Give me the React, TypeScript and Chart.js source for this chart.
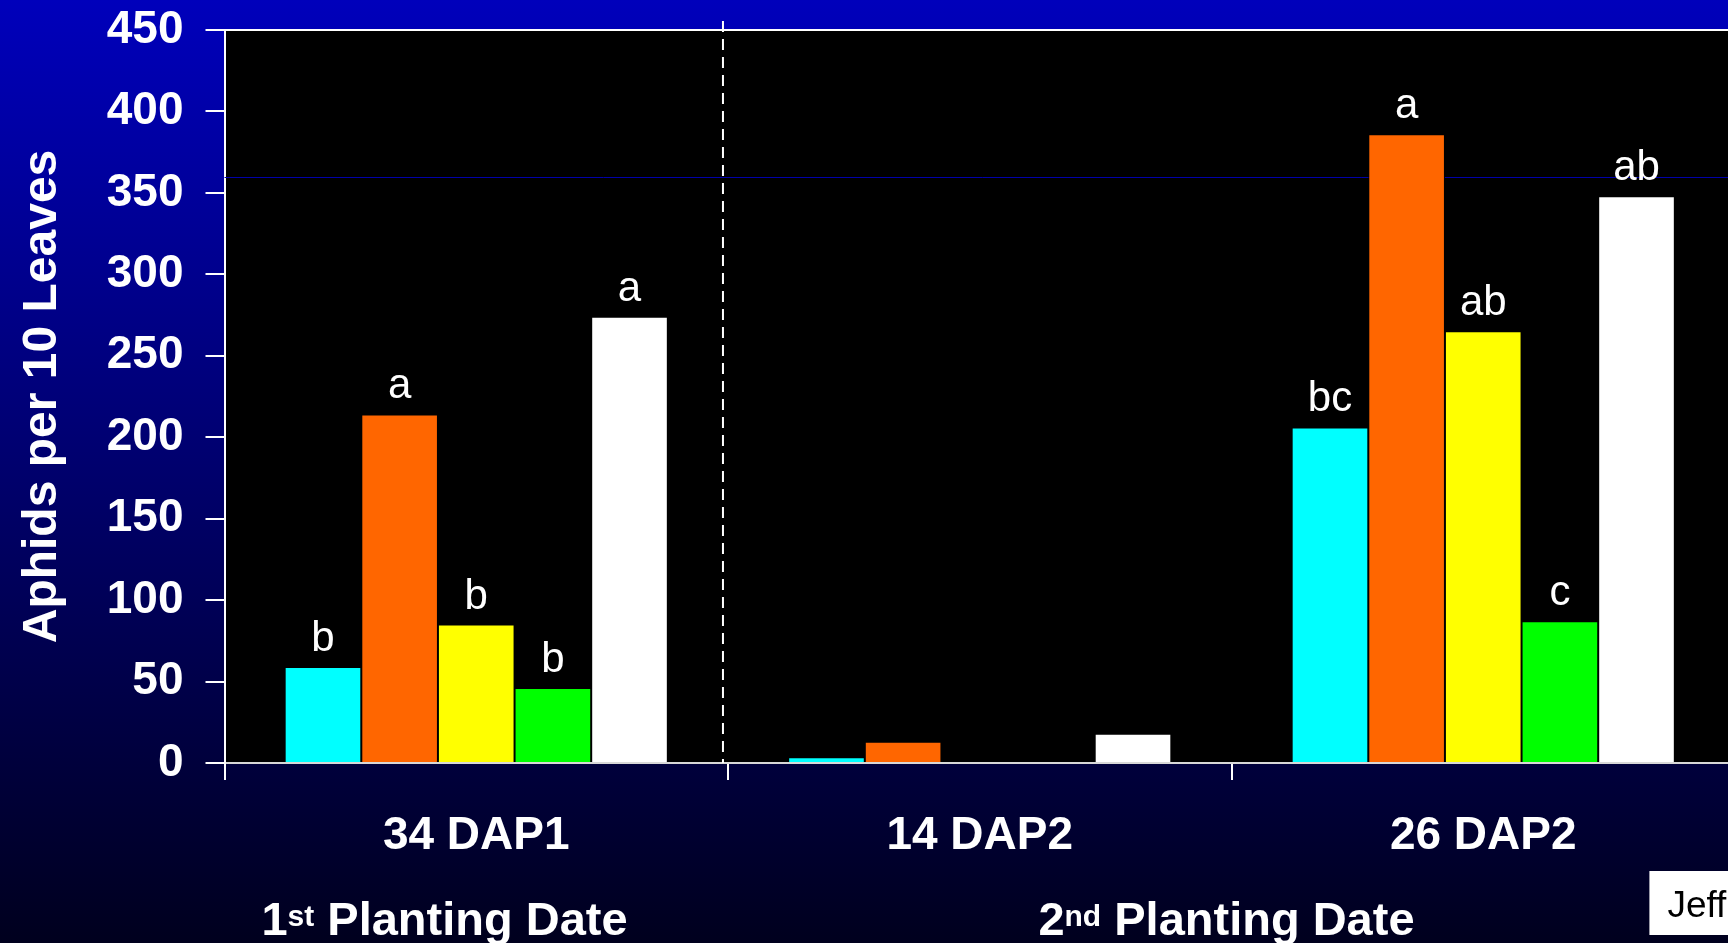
import React, { useEffect, useRef } from 'react';
import { Chart, registerables } from 'chart.js';

Chart.register(...registerables);

// ---- data ----
const categories = ['34 DAP1', '14 DAP2', '26 DAP2'];
const seriesNames = ['Treatment 1', 'Treatment 2', 'Treatment 3', 'Treatment 4', 'Treatment 5'];
const cyanValues = [59, 3.5, 206];
const orangeValues = [214, 13, 386];
const yellowValues = [85, 0, 265];
const greenValues = [46, 0, 87];
const whiteValues = [274, 18, 348];
const cyanLetters = ['b', '', 'bc'];
const orangeLetters = ['a', '', 'a'];
const yellowLetters = ['b', '', 'ab'];
const greenLetters = ['b', '', 'c'];
const whiteLetters = ['a', '', 'ab'];
const seriesColors = ['#00FFFF', '#FF6600', '#FFFF00', '#00FF00', '#FFFFFF'];
const yMin = 0;
const yMax = 450;
const yStep = 50;
const yAxisTitle = 'Aphids per 10 Leaves';
const plantingOrdinals = ['1', '2'];
const plantingSuffixes = ['st', 'nd'];
const plantingRest = ' Planting Date';
const creditText = 'Jeff';
const referenceLineValue = 360;

const FONT = "'Liberation Sans', Arial, Helvetica, sans-serif";

export default function App() {
  const ref = useRef<HTMLCanvasElement>(null);

  useEffect(() => {
    const canvas = ref.current;
    if (!canvas) return;

    const valueSets = [cyanValues, orangeValues, yellowValues, greenValues, whiteValues];
    const letterSets = [cyanLetters, orangeLetters, yellowLetters, greenLetters, whiteLetters];

    const decor = {
      id: 'decor',
      beforeDraw(chart: any) {
        const { ctx, width, height, chartArea: a } = chart;
        ctx.save();
        const g = ctx.createLinearGradient(0, 0, 0, height);
        g.addColorStop(0, '#0000BB');
        g.addColorStop(1, '#00001E');
        ctx.fillStyle = g;
        ctx.fillRect(0, 0, width, height);
        ctx.fillStyle = '#000000';
        ctx.fillRect(a.left, a.top, a.right - a.left, a.bottom - a.top);
        ctx.restore();
      },
      beforeDatasetsDraw(chart: any) {
        const { ctx, chartArea: a, scales } = chart;
        ctx.save();
        // faint blue reference line
        const yRef = Math.round(scales.y.getPixelForValue(referenceLineValue)) + 0.5;
        ctx.strokeStyle = '#0000A8';
        ctx.lineWidth = 1;
        ctx.beginPath();
        ctx.moveTo(a.left, yRef);
        ctx.lineTo(chart.width, yRef);
        ctx.stroke();
        // dashed divider between planting dates
        const xd = scales.x.getPixelForValue(0.49);
        ctx.strokeStyle = '#FFFFFF';
        ctx.lineWidth = 2;
        ctx.setLineDash([11, 7]);
        ctx.beginPath();
        ctx.moveTo(xd, a.top - 9);
        ctx.lineTo(xd, a.bottom);
        ctx.stroke();
        ctx.setLineDash([]);
        // top border
        ctx.strokeStyle = '#FFFFFF';
        ctx.lineWidth = 2;
        ctx.beginPath();
        ctx.moveTo(a.left - 1, a.top);
        ctx.lineTo(chart.width, a.top);
        ctx.stroke();
        ctx.restore();
      },
      afterDatasetsDraw(chart: any) {
        const { ctx } = chart;
        ctx.save();
        ctx.fillStyle = '#FFFFFF';
        ctx.font = `42px ${FONT}`;
        ctx.textAlign = 'center';
        ctx.textBaseline = 'alphabetic';
        letterSets.forEach((letters, i) => {
          const meta = chart.getDatasetMeta(i);
          letters.forEach((t, j) => {
            if (!t) return;
            const bar = meta.data[j];
            ctx.fillText(t, bar.x, bar.y - 16);
          });
        });
        ctx.restore();
      },
      afterDraw(chart: any) {
        const { ctx, scales } = chart;
        ctx.save();
        ctx.fillStyle = '#FFFFFF';
        ctx.textBaseline = 'alphabetic';
        ctx.textAlign = 'left';
        const centers = [scales.x.getPixelForValue(-0.063), scales.x.getPixelForValue(1.49)];
        const baseline = 935;
        const big = `bold 47px ${FONT}`;
        const small = `bold 30px ${FONT}`;
        plantingOrdinals.forEach((ord, i) => {
          ctx.font = big;
          const w1 = ctx.measureText(ord).width;
          const w3 = ctx.measureText(plantingRest).width;
          ctx.font = small;
          const w2 = ctx.measureText(plantingSuffixes[i]).width;
          let x = centers[i] - (w1 + w2 + w3) / 2;
          ctx.font = big;
          ctx.fillText(ord, x, baseline);
          x += w1;
          ctx.font = small;
          ctx.fillText(plantingSuffixes[i], x, baseline - 9);
          x += w2;
          ctx.font = big;
          ctx.fillText(plantingRest, x, baseline);
        });
        // credit box
        const bx = scales.x.getPixelForValue(2.33);
        ctx.fillStyle = '#FFFFFF';
        ctx.fillRect(bx, 871, chart.width - bx, 64);
        ctx.fillStyle = '#000000';
        ctx.font = `37px ${FONT}`;
        ctx.fillText(creditText, bx + 18, 917);
        ctx.restore();
      },
    };

    const chart = new Chart(canvas, {
      type: 'bar',
      data: {
        labels: categories,
        datasets: valueSets.map((vals, i) => ({
          label: seriesNames[i],
          data: vals,
          backgroundColor: seriesColors[i],
          borderColor: '#000000',
          borderWidth: 1,
          borderSkipped: 'start',
          categoryPercentage: 0.761,
          barPercentage: 1.0,
        })),
      },
      options: {
        responsive: false,
        animation: false,
        devicePixelRatio: 1,
        layout: { padding: { top: 30, right: 5, left: 0, bottom: 0 } },
        plugins: {
          legend: { display: false },
          tooltip: { enabled: false },
        },
        scales: {
          x: {
            type: 'category',
            offset: true,
            grid: {
              offset: true,
              drawOnChartArea: false,
              drawTicks: true,
              tickLength: 17,
              color: '#FFFFFF',
              lineWidth: 2,
            },
            border: { display: true, color: '#D8D8D8', width: 2 },
            ticks: {
              color: '#FFFFFF',
              font: { family: FONT, size: 46, weight: 'bold' },
              padding: 29,
              maxRotation: 0,
              autoSkip: false,
            },
            afterFit: (scale: any) => {
              scale.height = 180;
              scale.paddingLeft = 0;
              scale.paddingRight = 0;
            },
          },
          y: {
            min: yMin,
            max: yMax,
            grid: {
              drawOnChartArea: false,
              drawTicks: true,
              tickLength: 19,
              color: '#FFFFFF',
              lineWidth: 2,
            },
            border: { display: true, color: '#FFFFFF', width: 2 },
            ticks: {
              stepSize: yStep,
              color: '#FFFFFF',
              font: { family: FONT, size: 46, weight: 'bold' },
              padding: 22,
            },
            title: {
              display: true,
              text: yAxisTitle,
              color: '#FFFFFF',
              font: { family: FONT, size: 48, weight: 'bold' },
              padding: { top: 14, bottom: 0 },
            },
            afterFit: (scale: any) => {
              scale.width = 224.5;
              scale.paddingTop = 0;
              scale.paddingBottom = 0;
            },
          },
        },
      },
      plugins: [decor],
    } as any);

    return () => {
      chart.destroy();
    };
  }, []);

  return (
    <div
      style={{
        position: 'fixed',
        left: 0,
        top: 0,
        width: 1728,
        height: 943,
        overflow: 'hidden',
        background: '#00005A',
      }}
    >
      <canvas ref={ref} width={1740} height={943} style={{ display: 'block', width: 1740, height: 943 }} />
    </div>
  );
}
